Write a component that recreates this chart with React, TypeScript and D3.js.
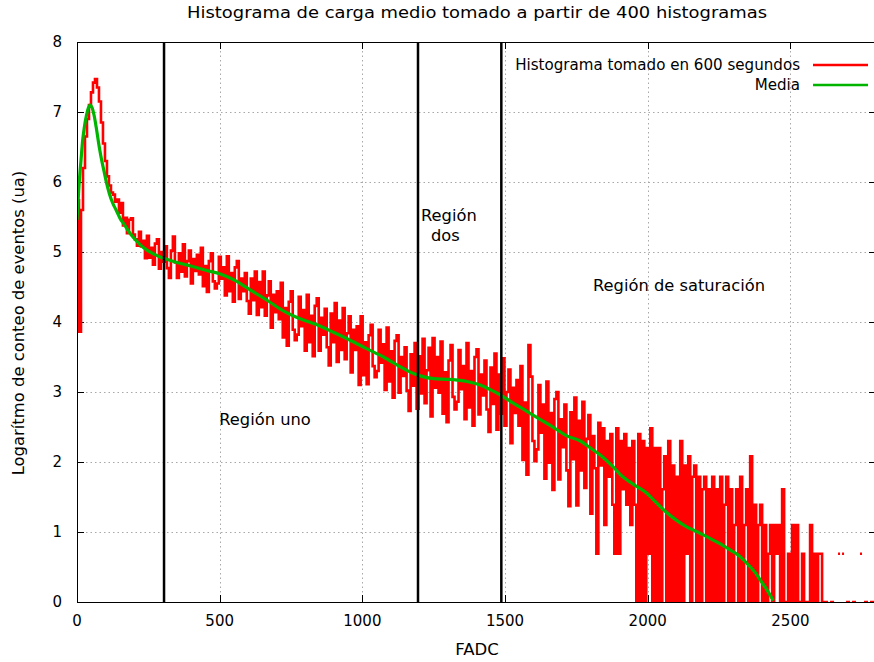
import React from "react";
import * as d3 from "d3";

const titleText = "Histograma de carga medio tomado a partir de 400 histogramas";
const xLabelText = "FADC";
const yLabelText = "Logarítmo de conteo de eventos (ua)";
const legendLabels = ["Histograma tomado en 600 segundos", "Media"];
const xTicks = [0, 500, 1000, 1500, 2000, 2500];
const yTicks = [0, 1, 2, 3, 4, 5, 6, 7, 8];
const regionLines = [305, 1195, 1487];

// Mean curve (green)
const meanX = [0, 7, 14, 20, 26, 33, 40, 46, 53, 60, 67, 78, 87, 96, 104, 113, 125, 137, 151, 166, 180, 197, 220, 244, 270, 291, 320, 360, 408, 460, 500, 525, 560, 595, 630, 670, 723, 780, 841, 900, 957, 1015, 1074, 1133, 1170, 1203, 1250, 1308, 1367, 1413, 1450, 1483, 1529, 1570, 1610, 1660, 1718, 1764, 1799, 1840, 1879, 1904, 1950, 1998, 2020, 2060, 2100, 2138, 2175, 2208, 2250, 2290, 2320, 2348, 2375, 2395, 2420, 2440];
const meanY = [5.46, 5.95, 6.31, 6.6, 6.79, 6.95, 7.06, 7.1, 7.06, 6.95, 6.79, 6.5, 6.3, 6.13, 5.98, 5.84, 5.7, 5.6, 5.48, 5.39, 5.3, 5.21, 5.11, 5.03, 4.97, 4.93, 4.89, 4.84, 4.79, 4.73, 4.69, 4.65, 4.58, 4.49, 4.4, 4.3, 4.16, 4.05, 3.96, 3.85, 3.74, 3.62, 3.5, 3.36, 3.28, 3.23, 3.19, 3.18, 3.15, 3.1, 3.03, 2.96, 2.84, 2.74, 2.64, 2.52, 2.37, 2.3, 2.2, 2.08, 1.93, 1.82, 1.68, 1.55, 1.46, 1.3, 1.17, 1.07, 1.0, 0.93, 0.84, 0.74, 0.66, 0.55, 0.43, 0.31, 0.16, 0.02];

// Single 600 s histogram (red): log of counts per bin, bins of 7 FADC from 0
const histBinWidth = 7;
const histLog: (number | null)[] = [
  5.74, 3.86, 5.6, 6.2, 6.65, 6.9, 7.1, 7.28, 7.42, 7.47,
  7.35, 7.15, 6.85, 6.55, 6.3, 6.08, 5.95, 5.85, 5.82, 5.72,
  5.75, 5.56, 5.7, 5.38, 5.49, 5.27, 5.46, 5.48, 5.25, 5.18,
  5.09, 5.29, 5.08, 5.16, 4.91, 5.23, 4.92, 5.06, 4.82, 5.12,
  5.18, 4.76, 5.0, 4.86, 5.08, 4.77, 4.63, 5.02, 5.22, 4.85,
  4.63, 4.98, 4.72, 5.11, 4.65, 4.87, 5.02, 4.55, 4.9, 4.73,
  4.96, 4.68, 5.06, 4.51, 4.8, 4.43, 4.87, 4.98, 4.58, 4.48,
  4.55, 4.93, 4.62, 4.78, 4.38, 4.94, 4.44, 4.7, 4.29, 4.78,
  4.87, 4.33, 4.62, 4.44, 4.7, 4.3, 4.12, 4.62, 4.31, 4.72,
  4.1, 4.57, 4.21, 4.72, 4.09, 4.38, 4.58, 3.92, 4.39, 4.14,
  4.44, 4.04, 4.56, 3.78, 4.2, 3.66, 4.29, 4.44, 3.89, 3.74,
  3.82, 4.36, 3.94, 4.17, 3.59, 4.39, 3.71, 4.09, 3.51, 4.23,
  4.34, 3.59, 4.06, 3.82, 4.19, 3.64, 3.38, 4.12, 3.71, 4.27,
  3.43, 4.02, 3.6, 4.2, 3.47, 3.84, 4.08, 3.28, 3.89, 3.6,
  3.94, 3.1, 4.08, 3.24, 3.71, 3.11, 3.81, 3.96, 3.37, 3.21,
  3.3, 3.89, 3.42, 3.68, 3.03, 3.92, 3.15, 3.58, 2.92, 3.73,
  3.81, 2.99, 3.5, 3.23, 3.64, 3.02, 2.73, 3.54, 3.09, 3.7,
  2.76, 3.51, 2.98, 3.76, 2.84, 3.31, 3.63, 2.65, 3.77, 3.06,
  3.5, 2.99, 3.72, 2.69, 3.28, 2.57, 3.45, 3.67, 2.93, 2.75,
  2.86, 3.6, 3.04, 3.37, 2.61, 3.7, 2.78, 3.3, 2.52, 3.5,
  3.61, 2.68, 3.25, 2.95, 3.45, 2.75, 2.43, 3.35, 2.83, 3.55,
  2.46, 3.25, 2.69, 3.48, 2.52, 3.0, 3.32, 2.27, 3.06, 2.7,
  3.17, 2.52, 3.37, 2.03, 2.85, 1.82, 3.67, 3.22, 2.3, 2.01,
  2.18, 3.1, 2.42, 2.82, 1.76, 3.15, 1.99, 2.7, 1.6, 2.9,
  3.0, 1.75, 2.61, 2.21, 2.82, 1.88, 1.37, 2.71, 2.04, 2.92,
  1.38, 2.59, 1.88, 2.86, 1.63, 2.33, 2.67, 1.26, 2.37, 1.91,
  0.69, 2.56, 1.95, 2.48, 1.1, 2.3, 1.79, 2.4, 1.39, 0.69,
  2.48, 0.69, 2.3, 1.61, 2.4, 1.39, 2.2, 1.1, 2.3, 1.39,
  0, 2.4, 0, 2.3, 0, 2.2, 0.69, 2.48, 0, 2.2,
  0, 2.2, 0, 1.61, 2.08, 0, 2.3, 0, 1.95, 0,
  1.79, 0, 2.3, 0, 1.95, 0.69, 2.08, 0, 1.79, 1.95,
  0, 1.79, 0, 1.61, 1.79, 0, 1.61, 0, 1.79, 0,
  1.61, 0, 1.79, 0, 1.39, 1.79, 0, 1.61, 0, 1.1,
  1.61, 0, 1.79, 0, 1.1, 1.61, 0, 2.08, 0, 1.39,
  0, 1.1, 1.39, 0, 1.1, 0, 0.69, 1.1, 0, 1.1,
  0.69, 1.1, 0, 1.61, 0, 0, 0.69, 0, 1.1, 0,
  1.1, 0, 0, 0.69, 0, 0, 0, 1.1, 0, 0.69,
  0, 0.69, 0.69, 0, 0, 0, null, 0, 0, null,
  null, 0.69, null, 0.69, null, 0, 0, null, 0, 0,
  null, null, 0.69, null, 0, 0, null, 0, 0, null,
  0,
];

const FONT = "DejaVu Sans, sans-serif";

export default function App() {
  const W = 874;
  const H = 662;
  const L = 77, T = 42, R = 876, B = 602;
  const x = d3.scaleLinear().domain([0, 2800]).range([L, R]);
  const y = d3.scaleLinear().domain([0, 8]).range([B, T]);

  const histPts: [number, number | null][] = [];
  histLog.forEach((v, i) => {
    histPts.push([i * histBinWidth, v]);
    histPts.push([(i + 1) * histBinWidth, v]);
  });
  const histLine = d3
    .line<[number, number | null]>()
    .defined((d) => d[1] !== null)
    .x((d) => x(d[0]))
    .y((d) => y(d[1] as number));

  const meanLine = d3
    .line<number>()
    .x((_, i) => x(meanX[i]))
    .y((d) => y(d))
    .curve(d3.curveMonotoneX);

  const tick = 7;
  const px = (v: number) => Math.round(v) + 0.5;

  return (
    <div style={{ position: "absolute", left: 0, top: 0 }}>
      <svg width={W} height={H} style={{ display: "block", background: "#fff" }} fontFamily={FONT}>
        <defs>
          <clipPath id="plotclip">
            <rect x={L} y={T} width={R - L} height={B - T} />
          </clipPath>
        </defs>
        <rect x={0} y={0} width={W} height={H} fill="#fff" />
        <g stroke="#a8a8a8" strokeWidth={1} strokeDasharray="1.5,3">
          {yTicks.slice(1, -1).map((t) => (
            <line key={"gy" + t} x1={L} x2={R} y1={px(y(t))} y2={px(y(t))} />
          ))}
          {xTicks.slice(1).map((t) => (
            <line key={"gx" + t} x1={px(x(t))} x2={px(x(t))} y1={T} y2={B} />
          ))}
        </g>
        <g stroke="#000" strokeWidth={1}>
          {yTicks.map((t) => (
            <g key={"ty" + t}>
              <line x1={L} x2={L + tick} y1={px(y(t))} y2={px(y(t))} />
              <line x1={R - tick} x2={R} y1={px(y(t))} y2={px(y(t))} />
            </g>
          ))}
          {xTicks.map((t) => (
            <g key={"tx" + t}>
              <line x1={px(x(t))} x2={px(x(t))} y1={B} y2={B - tick} />
              <line x1={px(x(t))} x2={px(x(t))} y1={T} y2={T + tick} />
            </g>
          ))}
        </g>
        <g clipPath="url(#plotclip)">
          <path d={histLine(histPts) || ""} fill="none" stroke="#ff0000" strokeWidth={2.6} />
          <path d={meanLine(meanY) || ""} fill="none" stroke="#00b400" strokeWidth={3.2} />
        </g>
        <g stroke="#000" strokeWidth={2.5}>
          {regionLines.map((r) => (
            <line key={"r" + r} x1={x(r)} x2={x(r)} y1={T} y2={B} />
          ))}
        </g>
        <rect x={L + 0.5} y={T + 0.5} width={R - L} height={B - T} fill="none" stroke="#000" strokeWidth={1} />
        <g fontSize={15} fill="#000">
          {yTicks.map((t) => (
            <text key={"ly" + t} x={62} y={y(t)} textAnchor="end" dominantBaseline="central">
              {t}
            </text>
          ))}
          {xTicks.map((t) => (
            <text key={"lx" + t} x={x(t)} y={621} textAnchor="middle" dominantBaseline="central">
              {t}
            </text>
          ))}
        </g>
        <text x={477} y={12} fontSize={16.5} textAnchor="middle" dominantBaseline="central" textLength={580} lengthAdjust="spacingAndGlyphs">
          {titleText}
        </text>
        <text x={477} y={649} fontSize={16.5} textAnchor="middle" dominantBaseline="central">
          {xLabelText}
        </text>
        <text
          transform={`translate(18,${(T + B) / 2 + 1}) rotate(-90)`}
          fontSize={16.4}
          textAnchor="middle"
          dominantBaseline="central"
        >
          {yLabelText}
        </text>
        <g fontSize={16.3}>
          <text x={265} y={419} textAnchor="middle" dominantBaseline="central">Región uno</text>
          <text x={421} y={215} dominantBaseline="central">Región</text>
          <text x={431} y={235} dominantBaseline="central">dos</text>
          <text x={679} y={285} textAnchor="middle" dominantBaseline="central">Región de saturación</text>
        </g>
        <g fontSize={15.1}>
          <text x={800} y={65} textAnchor="end" dominantBaseline="central">{legendLabels[0]}</text>
          <line x1={813} x2={868} y1={65} y2={65} stroke="#ff0000" strokeWidth={2.5} />
          <text x={800} y={85} textAnchor="end" dominantBaseline="central">{legendLabels[1]}</text>
          <line x1={813} x2={868} y1={85} y2={85} stroke="#00b400" strokeWidth={2.5} />
        </g>
      </svg>
    </div>
  );
}
